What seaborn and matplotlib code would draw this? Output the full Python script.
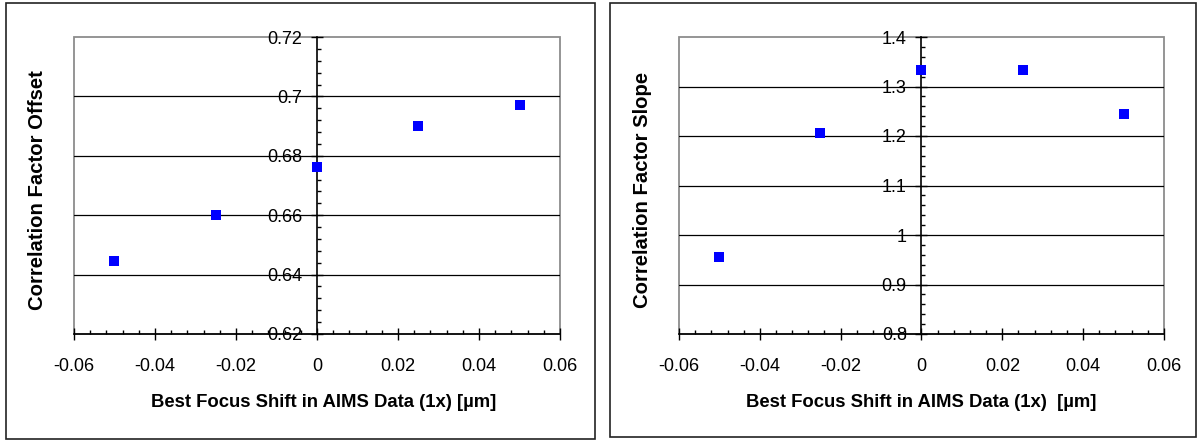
import matplotlib
matplotlib.use("Agg")
import matplotlib.pyplot as plt
from matplotlib.patches import Rectangle
from matplotlib.ticker import FixedLocator, MultipleLocator
import seaborn as sns
import pandas as pd

# Best-focus shift (µm) and the fitted correlation factors
focus_shift = [-0.05, -0.025, 0.0, 0.025, 0.05]
offset_values = [0.6446, 0.6602, 0.6762, 0.6900, 0.6970]
slope_values = [0.9555, 1.2070, 1.3326, 1.3332, 1.2453]

x_ticks = [-0.06, -0.04, -0.02, 0.0, 0.02, 0.04, 0.06]
offset_ticks = [0.62, 0.64, 0.66, 0.68, 0.70, 0.72]
slope_ticks = [0.8, 0.9, 1.0, 1.1, 1.2, 1.3, 1.4]

x_label_left = "Best Focus Shift in AIMS Data (1x) [µm]"
x_label_right = "Best Focus Shift in AIMS Data (1x)  [µm]"
y_label_left = "Correlation Factor Offset"
y_label_right = "Correlation Factor Slope"

sns.set_theme(style="white")
plt.rcParams["font.family"] = ["Liberation Sans", "DejaVu Sans"]

W, H = 1198, 441
fig = plt.figure(figsize=(W / 100, H / 100), dpi=100)


def fmt(v):
    return f"{round(v, 6):g}"


def panel(rect_px, box_px, y_vals, y_ticks, y_minor, xlabel, ylabel, xlab_x):
    x0, x1, ytop, ybot = rect_px
    ax = fig.add_axes([x0 / W, (H - ybot) / H, (x1 - x0) / W, (ybot - ytop) / H])

    df = pd.DataFrame({"shift": focus_shift, "value": y_vals})
    sns.scatterplot(data=df, x="shift", y="value", ax=ax, marker="s", s=52,
                    color="#0000ff", linewidth=0, zorder=4, legend=False)

    ax.set_xlim(x_ticks[0], x_ticks[-1])
    ax.set_ylim(y_ticks[0], y_ticks[-1])

    # horizontal gridlines at the interior major ticks
    for v in y_ticks[1:-1]:
        ax.axhline(v, color="black", lw=0.9, zorder=1)

    # grey plot-area frame
    ax.add_patch(Rectangle((0, 0), 1, 1, transform=ax.transAxes, fill=False,
                           edgecolor="#8c8c8c", lw=1.3, clip_on=False, zorder=0.5))
    for s in ["top", "right"]:
        ax.spines[s].set_visible(False)
    ax.spines["left"].set_position(("data", 0))
    for s in ["left", "bottom"]:
        ax.spines[s].set_color("black")
        ax.spines[s].set_linewidth(1.2)
        ax.spines[s].set_zorder(3)

    ax.xaxis.set_major_locator(FixedLocator(x_ticks))
    ax.set_xticklabels([fmt(v) for v in x_ticks])
    ax.xaxis.set_minor_locator(MultipleLocator(0.004))
    ax.yaxis.set_major_locator(FixedLocator(y_ticks))
    ax.set_yticklabels([fmt(v) for v in y_ticks])
    ax.yaxis.set_minor_locator(MultipleLocator(y_minor))

    ax.tick_params(axis="x", which="major", direction="inout", length=8.6,
                   width=1, color="black", pad=13.0, labelsize=13, labelcolor="black",
                   bottom=True)
    ax.tick_params(axis="x", which="minor", direction="in", length=3,
                   width=1, color="black", bottom=True)
    ax.tick_params(axis="y", which="major", direction="inout", length=8.6,
                   width=1, color="black", pad=6.3, labelsize=13, labelcolor="black",
                   left=True)
    ax.tick_params(axis="y", which="minor", direction="in", length=3,
                   width=1, color="black", left=True)

    ax.set_xlabel(xlabel, fontsize=13.3, fontweight="bold", color="black")
    ax.xaxis.set_label_coords(xlab_x, -0.232)
    ax.xaxis.label.set_va("center")
    ax.set_ylabel(ylabel, fontsize=14.6, fontweight="bold", color="black")
    ax.yaxis.set_label_coords(-0.076, 0.485)
    ax.yaxis.label.set_va("center")
    ax.yaxis.label.set_ha("center")

    bx0, by0, bx1, by1 = box_px
    fig.add_artist(Rectangle((bx0 / W, (H - by1) / H), (bx1 - bx0) / W, (by1 - by0) / H,
                             transform=fig.transFigure, fill=False,
                             edgecolor="#222222", lw=1.2))
    return ax


panel((74, 560, 37, 334), (5.5, 3, 595, 439), offset_values, offset_ticks, 0.004,
      x_label_left, y_label_left, 0.514)
panel((679, 1164, 37, 334), (610, 3, 1196, 437), slope_values, slope_ticks, 0.02,
      x_label_right, y_label_right, 0.5)

fig.savefig("out.png", dpi=100)
